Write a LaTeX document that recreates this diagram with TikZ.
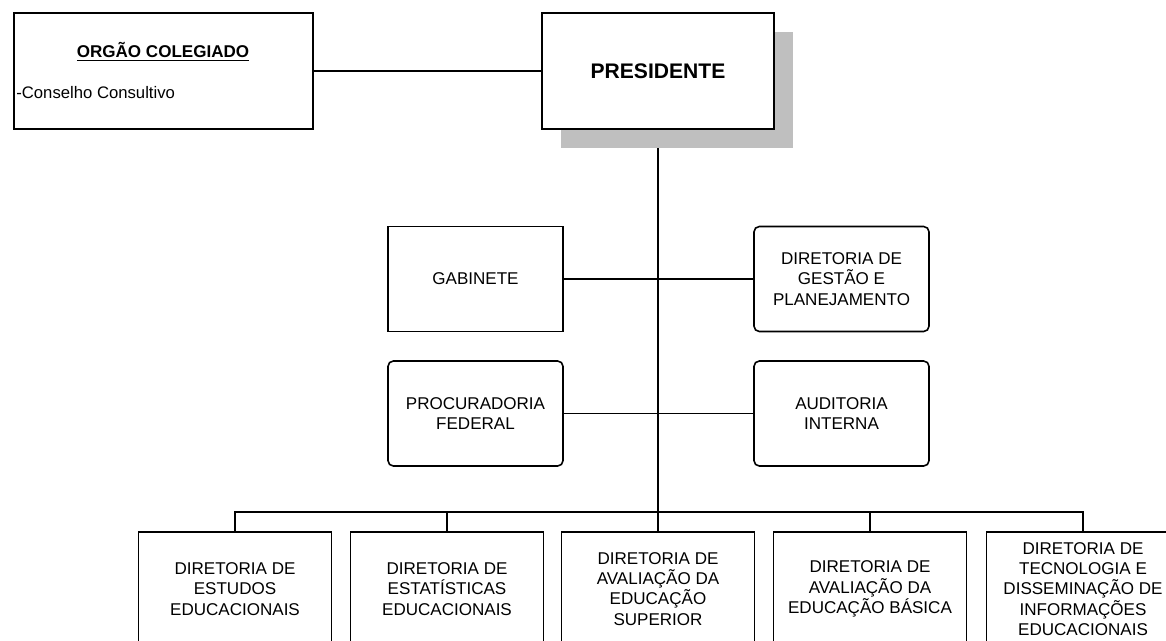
\documentclass[tikz,border=0pt]{standalone}
\usepackage{fontspec}
\setmainfont{Liberation Sans}
\usetikzlibrary{shadows,backgrounds}

\tikzset{
    caixa/.style={draw, line width=0.9pt, align=center, inner sep=2pt, font=\fontsize{9.7}{11.5}\selectfont},
    caixar/.style={caixa, rounded corners=3pt},
    meio/.style={minimum width=3.5cm, minimum height=2.1cm},
    dir/.style={caixa, minimum width=3.86cm, minimum height=2.28cm},
    liga/.style={line width=0.7pt},
}

\begin{document}
\begin{tikzpicture}[x=0.02cm,y=-0.02cm]
    \useasboundingbox (0,0) rectangle (1166,640);
    \clip (0,0) rectangle (1166,640);

    % topo
    \node[caixa, minimum width=5.98cm, minimum height=2.32cm] (colegiado) at (163.5,71) {};
    \node[font=\bfseries\fontsize{9.7}{11.5}\selectfont] (titulo) at (163,52) {\underline{ORGÃO COLEGIADO}};
    \node[anchor=west, inner sep=0pt, font=\fontsize{9.5}{11.5}\selectfont] (conselho) at (16,93) {-Conselho Consultivo};
    \node[caixa, fill=white, minimum width=4.64cm, minimum height=2.32cm, font=\bfseries\fontsize{12}{14}\selectfont,
        drop shadow={shadow xshift=0.38cm, shadow yshift=-0.38cm, fill=black!25, opacity=1}] (presidente) at (658,71) {PRESIDENTE};

    % meio
    \node[caixa, meio] (gabinete) at (475.5,279) {GABINETE};
    \node[caixar, meio] (gestao) at (841.5,279) {DIRETORIA DE\\GESTÃO E\\PLANEJAMENTO};
    \node[caixar, meio] (procuradoria) at (475.5,413.5) {PROCURADORIA\\FEDERAL};
    \node[caixar, meio] (auditoria) at (841.5,413.5) {AUDITORIA\\INTERNA};

    % diretorias
    \node[dir] (estudos) at (235,589) {DIRETORIA DE\\ESTUDOS\\EDUCACIONAIS};
    \node[dir] (estatisticas) at (447,589) {DIRETORIA DE\\ESTATÍSTICAS\\EDUCACIONAIS};
    \node[dir] (superior) at (658,589) {DIRETORIA DE\\AVALIAÇÃO DA\\EDUCAÇÃO\\SUPERIOR};
    \node[dir] (basica) at (870,589) {DIRETORIA DE\\AVALIAÇÃO DA\\EDUCAÇÃO BÁSICA};
    \node[dir] (tecnologia) at (1083,589) {DIRETORIA DE\\TECNOLOGIA E\\DISSEMINAÇÃO DE\\INFORMAÇÕES\\EDUCACIONAIS};

    \coordinate (bus) at (658,512);

    \begin{scope}[on background layer]
    \draw[liga] (colegiado.east) -- (presidente.west);
    \draw[liga] (presidente.south) -- (superior.north);
    \draw[liga] (gabinete) -- (gestao);
    \draw[liga] (procuradoria) -- (auditoria);
    \draw[liga] (estudos.north) |- (bus) -| (tecnologia.north);
    \foreach \d in {estatisticas, basica}
        \draw[liga] (\d.north) -- (\d.north |- bus);
    \end{scope}
\end{tikzpicture}
\end{document}
